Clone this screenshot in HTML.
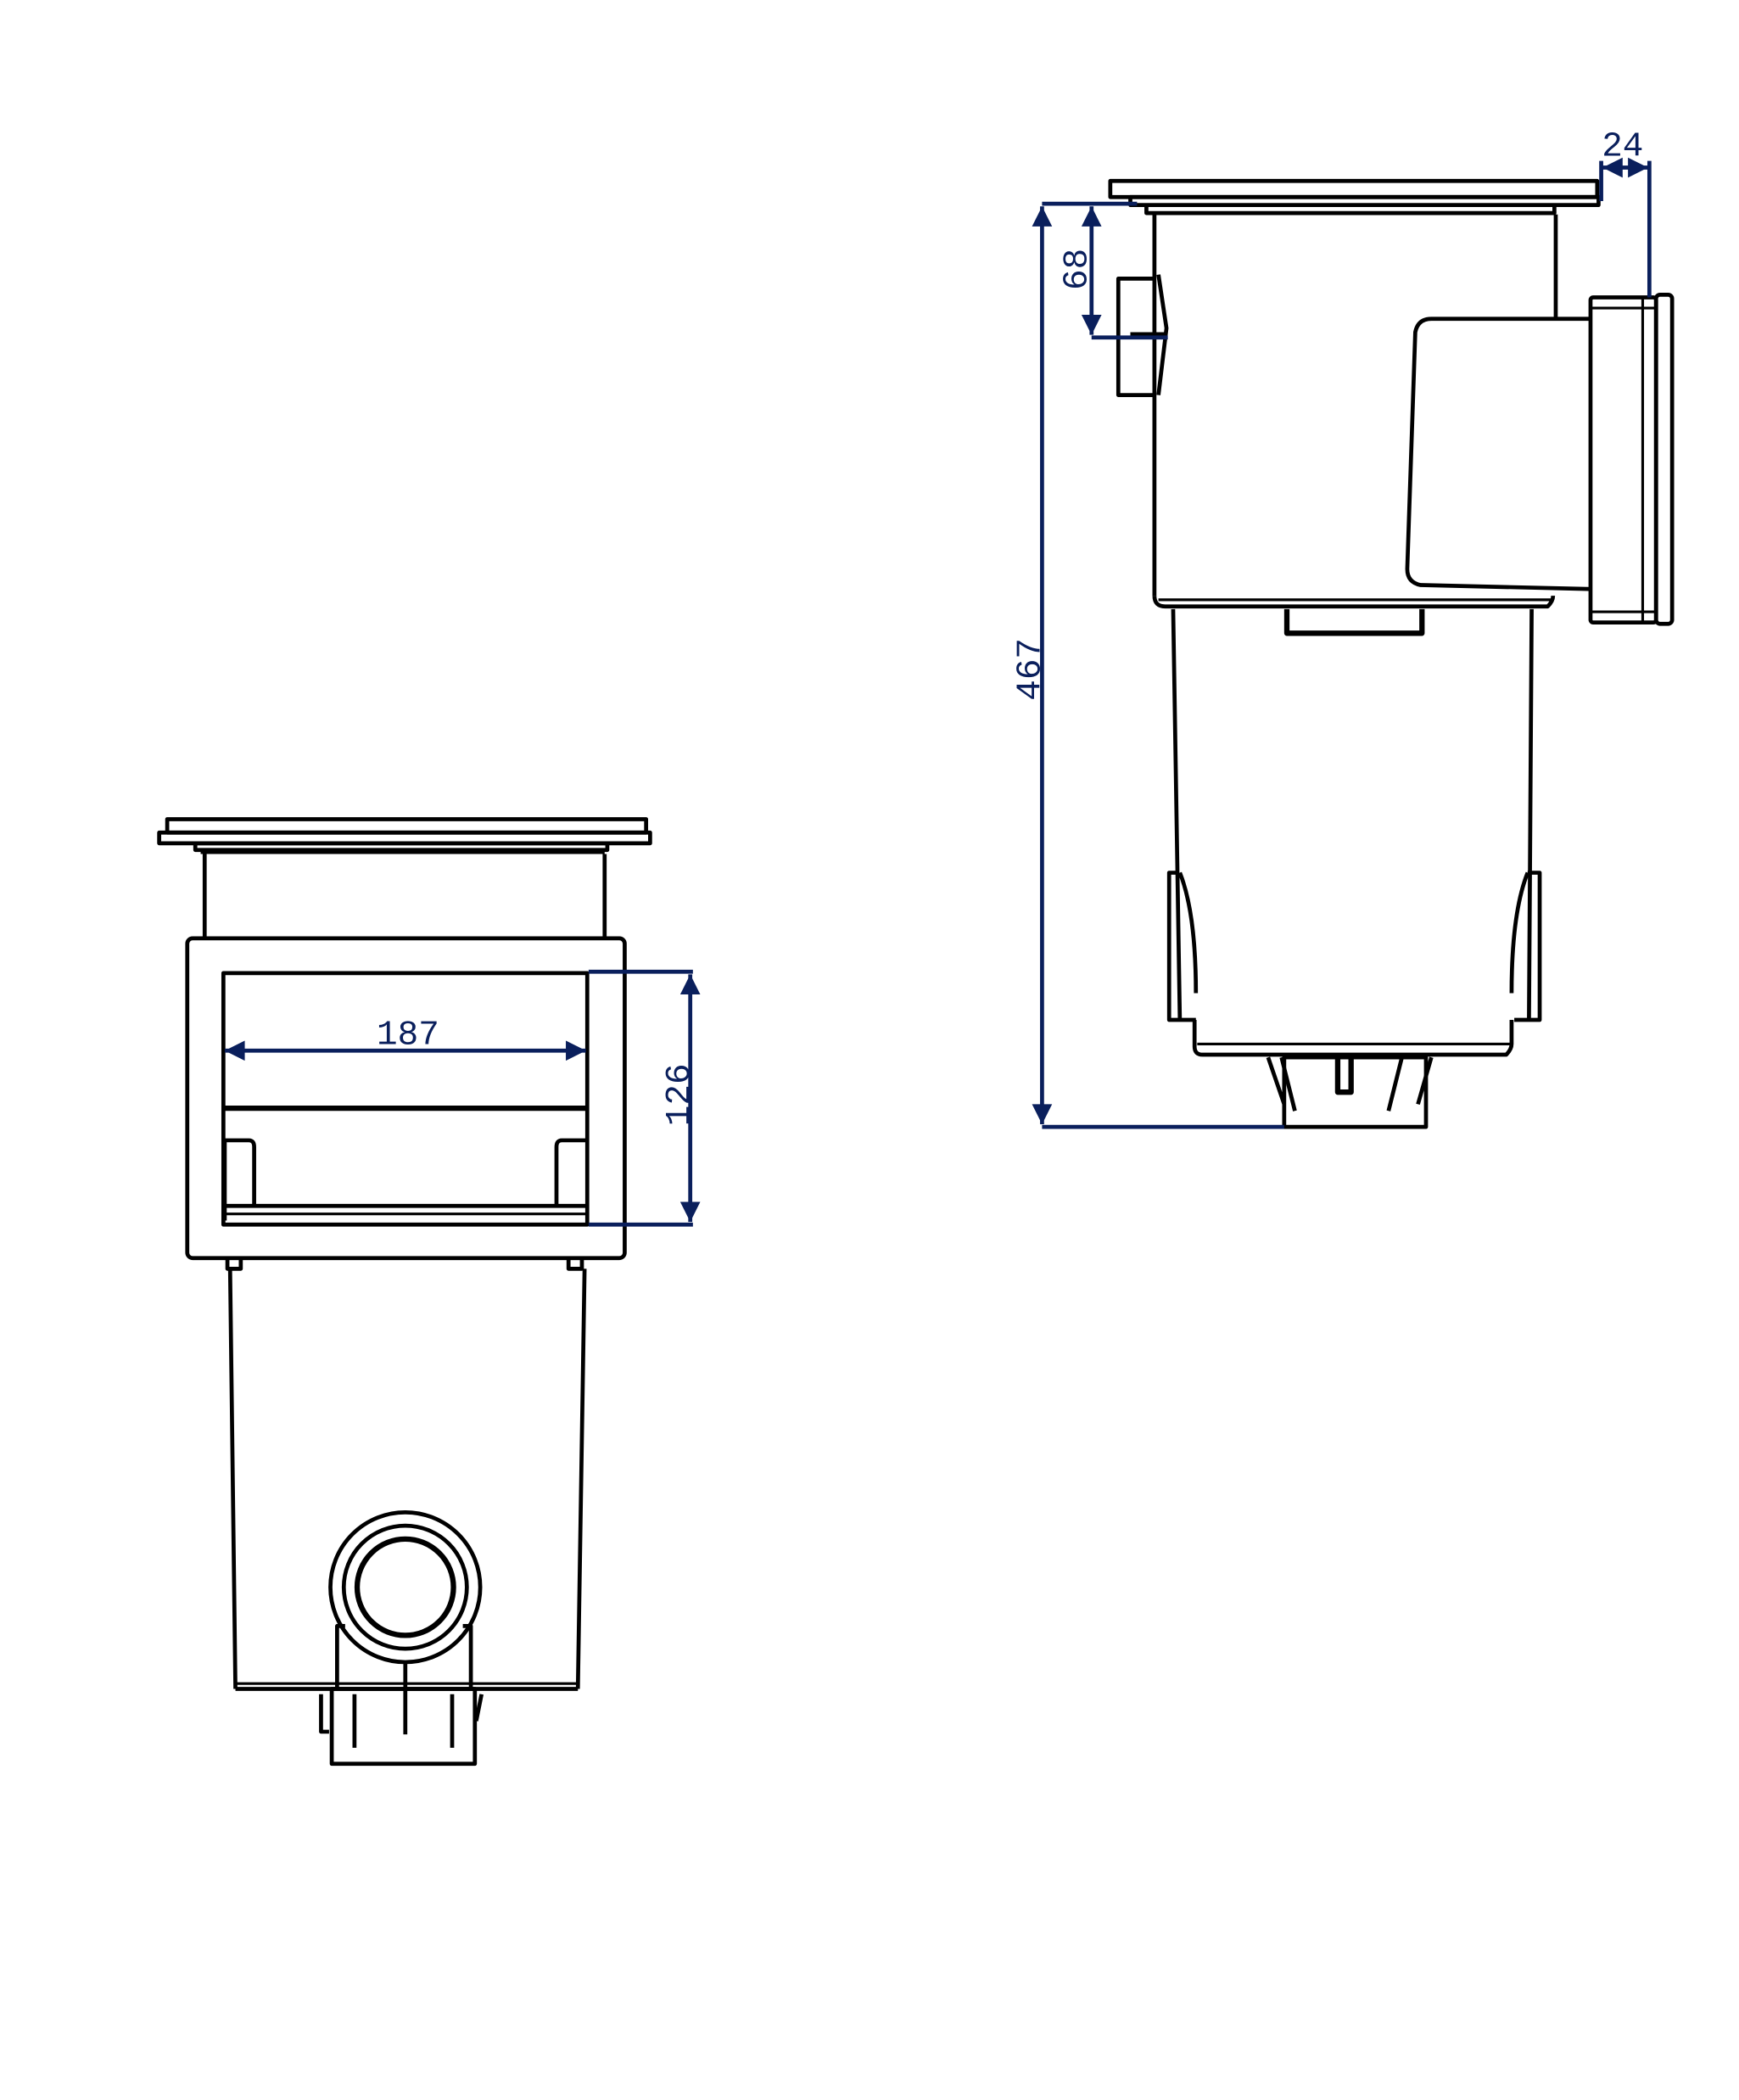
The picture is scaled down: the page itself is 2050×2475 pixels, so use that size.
<!DOCTYPE html>
<html><head><meta charset="utf-8"><style>html,body{margin:0;padding:0;background:#fff}svg{display:block}</style></head>
<body>
<svg width="2050" height="2475" viewBox="0 0 1300 1569" xmlns="http://www.w3.org/2000/svg">
<defs>
<marker id="a" viewBox="0 0 10 10" refX="10" refY="5" markerWidth="5.5" markerHeight="5" orient="auto-start-reverse" markerUnits="strokeWidth"><path d="M0,0L10,5L0,10z" fill="#0a1f5c"/></marker>
</defs>
<rect width="1300" height="1569" fill="#fff"/>
<g fill="none" stroke="#000" stroke-width="3" stroke-linejoin="round">
<rect x="125" y="612" width="358" height="10"/>
<rect x="119" y="622" width="367" height="8"/>
<rect x="146" y="630" width="308" height="5"/>
<line x1="150" y1="637" x2="452" y2="637" stroke-width="2"/>
<line x1="153" y1="638" x2="153" y2="700"/>
<line x1="452" y1="638" x2="452" y2="700"/>
<rect x="140" y="701" width="327" height="239" rx="4"/>
<rect x="167" y="727" width="272" height="188"/>
<line x1="167" y1="828" x2="439" y2="828" stroke-width="4"/>
<path d="M168,912V852h18q4,0 4,5V900"/>
<path d="M438,852h-18q-4,0 -4,5V900"/>
<line x1="168" y1="901" x2="438" y2="901"/>
<line x1="168" y1="907" x2="438" y2="907" stroke-width="2"/>
<path d="M170,940v8h10v-8M425,940v8h10v-8"/>
<path d="M172,948L176,1262M437,948L432,1262"/>
<line x1="176" y1="1262" x2="432" y2="1262"/>
<line x1="176" y1="1258" x2="432" y2="1258" stroke-width="2"/>
<path d="M252,1262V1215h6M352,1262V1215h-6"/>
<circle cx="303" cy="1186" r="56"/>
<circle cx="303" cy="1186" r="46"/>
<circle cx="303" cy="1186" r="36" stroke-width="4"/>
<line x1="303" y1="1242" x2="303" y2="1262"/>
<rect x="248" y="1262" width="107" height="56"/>
<path d="M240,1266v28h6M303,1262v34M265,1266v40M338,1266v40M360,1266l-4,20"/>
<rect x="830" y="135" width="364" height="12"/>
<rect x="845" y="147" width="350" height="6"/>
<path d="M857,153v6h305v-6"/>
<line x1="863" y1="160" x2="863" y2="445"/>
<line x1="1163" y1="160" x2="1163" y2="238"/>
<path d="M863,445q0,8 8,8H1157q4,-4 4,-8"/>
<line x1="866" y1="448" x2="1160" y2="448" stroke-width="2"/>
<path d="M863,208H836V295H863"/>
<path d="M866,205l6,40l-6,50"/>
<line x1="845" y1="250" x2="872" y2="250" stroke-width="4"/>
<path d="M1190,238H1070q-10,0 -12,10L1052,425q0,10 10,12L1190,440"/>
<rect x="1189" y="222" width="49" height="243" rx="2"/>
<rect x="1238" y="220" width="12" height="246" rx="3"/>
<line x1="1228" y1="222" x2="1228" y2="465" stroke-width="2"/>
<line x1="1190" y1="230" x2="1238" y2="230" stroke-width="2"/>
<line x1="1190" y1="457" x2="1238" y2="457" stroke-width="2"/>
<path d="M877,455L882,762M1145,455L1143,762"/>
<path d="M962,455v18h101v-18" stroke-width="4"/>
<path d="M880,652H874V762H894M1142,652h9V762H1132"/>
<path d="M882,652q12,30 12,90M1142,652q-12,30 -12,90"/>
<path d="M893,762V782q0,6 6,6H1126q4,-4 4,-8V762"/>
<line x1="895" y1="780" x2="1130" y2="780" stroke-width="2"/>
<rect x="960" y="790" width="106" height="52"/>
<path d="M948,790l12,35M958,790l10,40M1048,790l-10,40M1070,790l-10,35"/>
<path d="M1000,790v26h10v-26" stroke-width="4"/>
</g>
<g stroke="#0a1f5c" stroke-width="3" fill="none">
<line x1="168" y1="785" x2="438" y2="785" marker-start="url(#a)" marker-end="url(#a)"/>
<line x1="440" y1="726" x2="518" y2="726"/>
<line x1="440" y1="915" x2="518" y2="915"/>
<line x1="516" y1="728" x2="516" y2="913" marker-start="url(#a)" marker-end="url(#a)"/>
<line x1="779" y1="152" x2="850" y2="152"/>
<line x1="779" y1="842" x2="960" y2="842"/>
<line x1="779" y1="154" x2="779" y2="840" marker-start="url(#a)" marker-end="url(#a)"/>
<line x1="816" y1="154" x2="816" y2="250" marker-start="url(#a)" marker-end="url(#a)"/>
<line x1="816" y1="252" x2="873" y2="252"/>
<line x1="1197" y1="120" x2="1197" y2="150"/>
<line x1="1233" y1="120" x2="1233" y2="222"/>
<line x1="1198" y1="125" x2="1232" y2="125" marker-start="url(#a)" marker-end="url(#a)"/>
</g>
<g fill="#0a1f5c" font-family="Liberation Mono, monospace" font-size="26">
<text x="305" y="780" text-anchor="middle">187</text>
<text transform="translate(515,818) rotate(-90)" text-anchor="middle">126</text>
<text transform="translate(777,500) rotate(-90)" text-anchor="middle">467</text>
<text transform="translate(812,201) rotate(-90)" text-anchor="middle">68</text>
<text x="1213" y="116" text-anchor="middle">24</text>
</g>
</svg>
</body></html>
